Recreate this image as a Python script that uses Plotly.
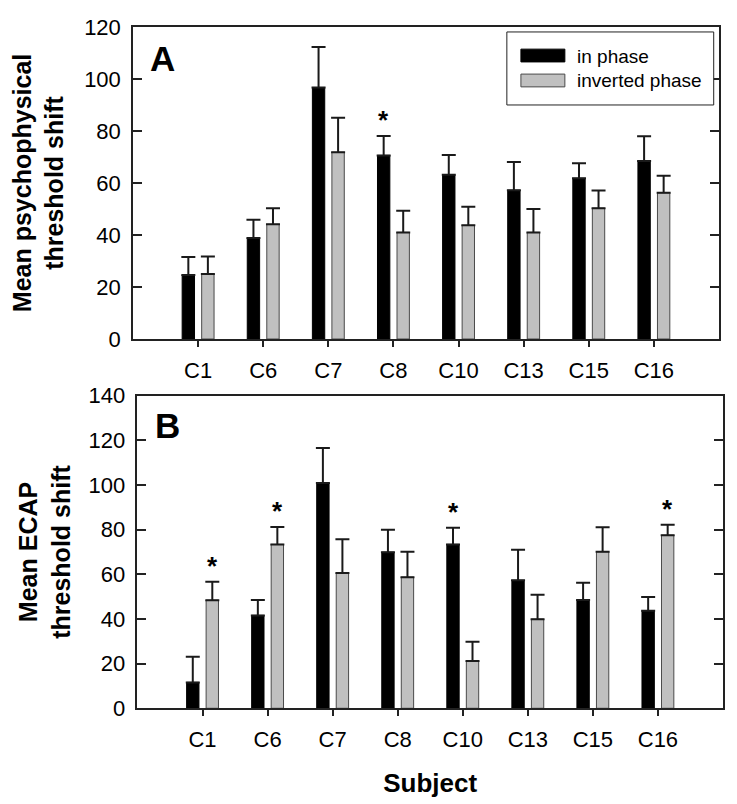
import plotly.graph_objects as go
from plotly.subplots import make_subplots

subjects = ['C1', 'C6', 'C7', 'C8', 'C10', 'C13', 'C15', 'C16']
series_names = ['in phase', 'inverted phase']

# panel A: psychophysical threshold shift
psy_in = [24.6, 38.8, 96.7, 70.6, 63.2, 57.2, 61.8, 68.5]
psy_in_err = [6.9, 7.1, 15.6, 7.5, 7.6, 10.9, 5.8, 9.5]
psy_inv = [25.0, 44.1, 71.8, 41.0, 43.7, 41.0, 50.3, 56.2]
psy_inv_err = [6.7, 6.2, 13.3, 8.3, 7.2, 9.0, 6.8, 6.6]
psy_sig = [('C8', 0)]

# panel B: ECAP threshold shift
ecap_in = [11.6, 41.6, 100.9, 69.9, 73.4, 57.3, 48.5, 43.7]
ecap_in_err = [11.5, 6.9, 15.7, 10.1, 7.5, 13.7, 7.7, 6.1]
ecap_inv = [48.4, 73.4, 60.6, 58.7, 21.2, 39.9, 70.1, 77.5]
ecap_inv_err = [8.3, 7.8, 15.1, 11.4, 8.6, 11.0, 11.0, 4.7]
ecap_sig = [('C1', 1), ('C6', 1), ('C10', 0), ('C16', 1)]

FONT = 'Arial, Liberation Sans, sans-serif'
fills = ['#000000', '#c0c0c0']
outlines = ['#000000', '#4a4a4a']

fig = make_subplots(rows=2, cols=1)

panels = [
    (1, [psy_in, psy_inv], [psy_in_err, psy_inv_err], psy_sig),
    (2, [ecap_in, ecap_inv], [ecap_in_err, ecap_inv_err], ecap_sig),
]
for row, means, errs, sig in panels:
    for k in range(2):
        fig.add_trace(
            go.Bar(
                x=subjects,
                y=means[k],
                name=series_names[k],
                marker=dict(color=fills[k], line=dict(color=outlines[k], width=1)),
                error_y=dict(
                    type='data', symmetric=False,
                    array=errs[k], arrayminus=[0] * len(subjects),
                    color='#1a1a1a', thickness=2, width=7,
                ),
                showlegend=False,
            ),
            row=row, col=1,
        )
    xref = 'x' if row == 1 else 'x2'
    yref = 'y' if row == 1 else 'y2'
    for subj, k in sig:
        i = subjects.index(subj)
        fig.add_annotation(
            x=subj, y=means[k][i] + errs[k][i],
            xref=xref, yref=yref,
            text='<b>*</b>', showarrow=False,
            xshift=-9.75 if k == 0 else 9.75,
            yanchor='bottom', yshift=-1,
            font=dict(size=26, color='black', family=FONT),
        )

# panel letters
for letter, xr, yr, yp in [('A', 'x domain', 'y domain', 0.968),
                           ('B', 'x2 domain', 'y2 domain', 0.975)]:
    fig.add_annotation(
        x=0.026, y=yp, xref=xr, yref=yr, xanchor='left', yanchor='top',
        text=f'<b>{letter}</b>', showarrow=False,
        font=dict(size=35, color='black', family=FONT),
    )

# legend box (panel A)
fig.add_shape(type='rect', xref='x domain', yref='y domain',
              x0=0.638, x1=0.991, y0=0.75, y1=0.984,
              line=dict(color='#222', width=1), fillcolor='white')
for k, (yc, y0, y1) in enumerate([(0.905, 0.888, 0.929), (0.830, 0.808, 0.849)]):
    fig.add_shape(type='rect', xref='x domain', yref='y domain',
                  x0=0.662, x1=0.737, y0=y0, y1=y1,
                  line=dict(color=outlines[k], width=1), fillcolor=fills[k])
    fig.add_annotation(x=0.754, y=yc, xref='x domain', yref='y domain',
                       xanchor='left', yanchor='middle', text=series_names[k],
                       showarrow=False, font=dict(size=19, color='black', family=FONT))

axis_common = dict(
    showline=True, linecolor='#222', linewidth=1.5,
    showgrid=False, zeroline=False, automargin=False,
    tickfont=dict(size=22, color='black', family=FONT),
)
fig.update_xaxes(
    **axis_common, mirror=True, ticks='outside', ticklen=6, tickwidth=1.5,
    tickcolor='#222', range=[-1.0, 8.0], ticklabelstandoff=5,
)
fig.update_yaxes(
    **axis_common, mirror='ticks', ticks='inside', ticklen=9, tickwidth=1.5,
    tickcolor='#222', dtick=20, ticklabelstandoff=6,
)
# the page body adds 8px, so domains are set for the figure origin at (8, 8)
fig.update_xaxes(domain=[0.1696, 0.9647], row=1, col=1)
fig.update_xaxes(domain=[0.1757, 0.9701], row=2, col=1,
                 title=dict(text='<b>Subject</b>', standoff=22,
                            font=dict(size=26, color='black', family=FONT)))
fig.update_yaxes(domain=[0.5883, 0.9764], range=[0, 120], row=1, col=1,
                 title=dict(text='<b>Mean psychophysical<br>threshold shift</b>', standoff=19,
                            font=dict(size=25, color='black', family=FONT)))
fig.update_yaxes(domain=[0.129, 0.5178], range=[0, 140], row=2, col=1,
                 title=dict(text='<b>Mean ECAP<br>threshold shift</b>', standoff=11,
                            font=dict(size=25, color='black', family=FONT)))

fig.update_layout(
    width=737, height=804,
    margin=dict(l=0, r=0, t=0, b=0),
    barmode='group', bargap=0.4, bargroupgap=0.367,
    plot_bgcolor='white', paper_bgcolor='white',
    font=dict(family=FONT, color='black'),
)

fig.write_html('out.html')
